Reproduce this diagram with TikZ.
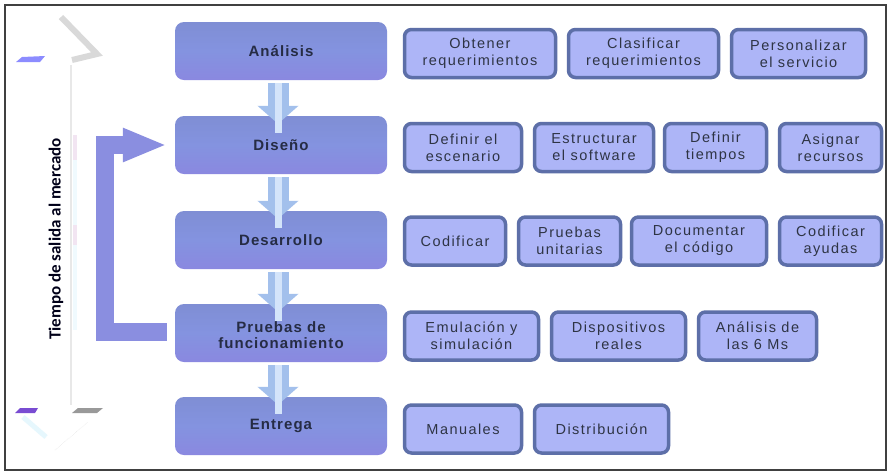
\documentclass[tikz,border=0pt]{standalone}
\usepackage{fontspec}
\usetikzlibrary{arrows.meta}
\setmainfont{Liberation Sans}
\newfontfamily\subf[LetterSpace=10]{Liberation Sans}
\newfontfamily\mainf[LetterSpace=7]{Liberation Sans}
\newfontfamily\tf{Carlito}
\definecolor{mainfill}{HTML}{8493E0}
\definecolor{maintop}{HTML}{7F8ED4}
\definecolor{mainbot}{HTML}{8A88E0}
\definecolor{maintext}{HTML}{262C44}
\definecolor{subfill}{HTML}{ADB5F7}
\definecolor{subline}{HTML}{5D6FA8}
\definecolor{subtext}{HTML}{2E3444}
\definecolor{dnarrow}{HTML}{A3C0EC}
\definecolor{dnlight}{HTML}{D4E4FA}
\definecolor{brkcol}{HTML}{8A8EE0}
\tikzset{
  mainbox/.style={rounded corners=9pt, top color=maintop, bottom color=mainbot, middle color=mainfill,
    minimum width=212pt, minimum height=58pt, inner sep=0pt, align=center,
    font=\mainf\bfseries\fontsize{15}{16.5}\selectfont, text=maintext},
  subbox/.style={rounded corners=7pt, fill=subfill, draw=subline, line width=3.5pt,
    minimum height=48pt, inner sep=0pt, align=center,
    font=\subf\fontsize{14.5}{17}\selectfont, text=subtext},
  dnarr/.style={line width=21pt, draw=dnarrow, -{Triangle[width=40pt,length=18pt]}},
  dnhi/.style={line width=7pt, draw=dnlight},
  brk/.style={line width=18pt, draw=brkcol, -{Triangle[width=31pt,length=44pt]}},
}
\begin{document}
\begin{tikzpicture}[x=1pt,y=-1pt]
\useasboundingbox (0,0) rectangle (891,475);
\fill[white] (0,0) rectangle (891,475);
\draw[line width=1.6pt, draw=black!75] (5,5) rectangle (886,470);

% timeline decoration
\draw[line width=2pt, draw=black!9] (71,65) -- (71,405);
\fill[cyan!6] (73,135) rectangle (77,330);
\fill[violet!10] (73,135) rectangle (77,160);
\fill[violet!10] (73,225) rectangle (77,245);
\draw[line width=6pt, draw=black!15, line join=miter] (61,17) -- (97,54) -- (72,60);
\fill[blue!45] (16,62) -- (22,57) -- (45,56) -- (40,62) -- cycle;
\fill[blue!50!violet!70] (15,413) -- (20,408) -- (38,408) -- (35,413) -- cycle;
\fill[black!40] (72,413) -- (78,408) -- (103,408) -- (97,413) -- cycle;
\draw[line width=5pt, draw=cyan!10] (23,417) -- (46,437);
\draw[densely dotted, draw=black!15] (55,450) -- (88,422);
\node[rotate=90, font=\tf\bfseries\fontsize{17}{19}\selectfont, text=black!90!blue] (tsm) at (56,239) {Tiempo de salida al mercado};

% main boxes
\node[mainbox] (ana) at (281,51) {Análisis};
\node[mainbox] (dis) at (281,145) {Diseño};
\node[mainbox] (des) at (281,240) {Desarrollo};
\node[mainbox] (pru) at (281,333) {\raisebox{0pt}[\dimexpr\height+8pt\relax]{\begin{tabular}{@{}c@{}}Pruebas de\\funcionamiento\end{tabular}}};
\node[mainbox] (ent) at (281,426) {Entrega};

% down arrows
\foreach \a/\b in {ana/dis, dis/des, des/pru, pru/ent}{
  \draw[dnarr] ([xshift=-3pt,yshift=-3pt]\a.south) -- ([xshift=-3pt,yshift=-8pt]\b.north);
  \draw[dnhi] ([xshift=-3pt,yshift=-3pt]\a.south) -- ([xshift=-3pt,yshift=-17pt]\b.north);
}

% feedback bracket
\draw[brk] ([xshift=-8pt,yshift=1pt]pru.west) -- ++(-62,0) |- ([xshift=-8pt]dis.west);

% sub boxes row 1
\node[subbox, minimum width=151pt] (obt) at (480,53.5) {Obtener\\requerimientos};
\node[subbox, minimum width=150pt] (cla) at (643.5,53.5) {Clasificar\\requerimientos};
\node[subbox, minimum width=134pt] (per) at (798.5,53.5) {Personalizar\\el servicio};
% row 2
\node[subbox, minimum width=117pt] (def) at (463,147.5) {Definir el\\escenario};
\node[subbox, minimum width=119pt] (est) at (594,147.5) {Estructurar\\el software};
\node[subbox, minimum width=102pt] (dti) at (715.5,147.5) {Definir\\tiempos};
\node[subbox, minimum width=102pt] (asi) at (830.5,147.5) {Asignar\\recursos};
% row 3
\node[subbox, minimum width=101pt] (cod) at (455,241) {Codificar};
\node[subbox, minimum width=102pt] (pun) at (569.5,241) {Pruebas\\unitarias};
\node[subbox, minimum width=135pt] (doc) at (699,241) {Documentar\\el código};
\node[subbox, minimum width=102pt] (cay) at (830.5,241) {Codificar\\ayudas};
% row 4
\node[subbox, minimum width=134pt] (emu) at (471.5,336) {Emulación y\\simulación};
\node[subbox, minimum width=134pt] (dre) at (618.5,336) {Dispositivos\\reales};
\node[subbox, minimum width=118pt] (ams) at (757.5,336) {Análisis de\\las 6 Ms};
% row 5
\node[subbox, minimum width=117pt] (man) at (463,429) {Manuales};
\node[subbox, minimum width=134pt] (dsb) at (601.5,429) {Distribución};
\end{tikzpicture}
\end{document}
